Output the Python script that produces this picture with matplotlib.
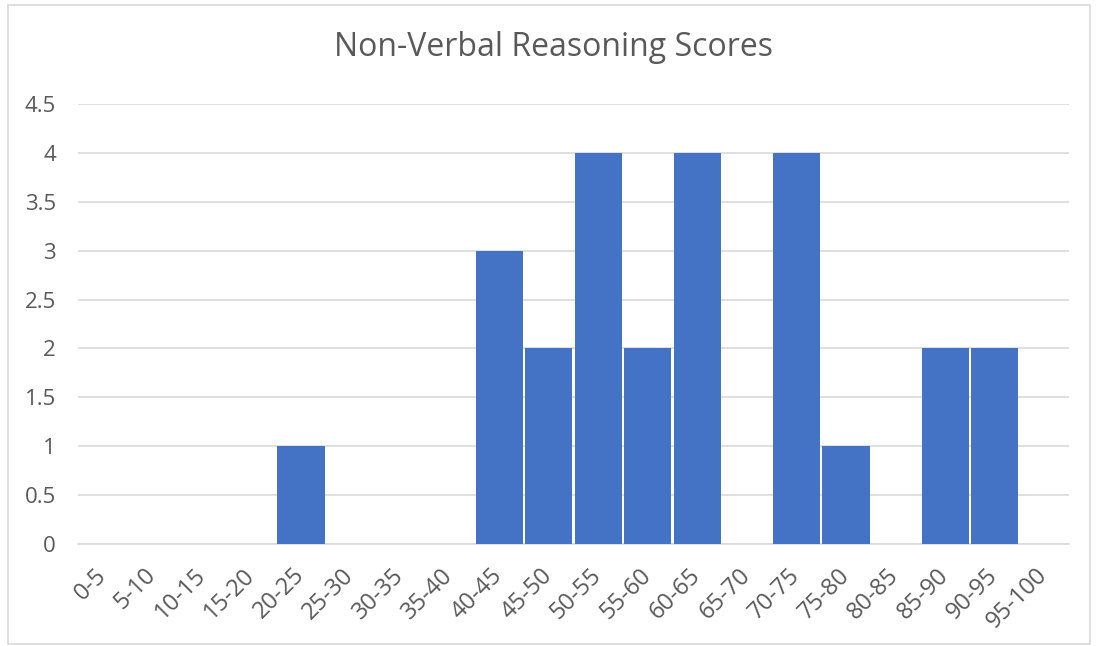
import matplotlib.pyplot as plt
from matplotlib.patches import Rectangle

plt.rcParams['font.family'] = ['Open Sans', 'DejaVu Sans']

title = "Non-Verbal Reasoning Scores"
bins = ["0-5", "5-10", "10-15", "15-20", "20-25", "25-30", "30-35", "35-40",
        "40-45", "45-50", "50-55", "55-60", "60-65", "65-70", "70-75", "75-80",
        "80-85", "85-90", "90-95", "95-100"]
counts = [0, 0, 0, 0, 1, 0, 0, 0, 3, 2, 4, 2, 4, 0, 4, 1, 0, 2, 2, 0]
yticks = [0, 0.5, 1, 1.5, 2, 2.5, 3, 3.5, 4, 4.5]

text_col = '#595959'
grid_col = '#D9D9D9'
bar_col = '#4472C4'

fig = plt.figure(figsize=(10.97, 6.46), dpi=100)
ax = fig.add_axes([78 / 1097, 1 - 544 / 646, (1069 - 78) / 1097, (544 - 104) / 646])

x = list(range(len(bins)))
ax.bar(x, counts, width=0.95, color=bar_col, zorder=3)

ax.set_xlim(-0.5, len(bins) - 0.5)
ax.set_ylim(0, 4.5)
ax.set_yticks(yticks)
ax.set_yticklabels([f"{v:g}" for v in yticks], fontsize=16, color=text_col)
ax.set_xticks(x)
ax.set_xticklabels(bins, rotation=45, ha='right', va='center', rotation_mode='anchor',
                   fontsize=17, color=text_col)
ax.tick_params(axis='both', length=0)
ax.tick_params(axis='y', pad=16)
ax.tick_params(axis='x', pad=20)

ax.yaxis.grid(True, color=grid_col, linewidth=1.2, zorder=0)
for s in ['top', 'right', 'left']:
    ax.spines[s].set_visible(False)
ax.spines['bottom'].set_color(grid_col)
ax.spines['bottom'].set_linewidth(1.2)

fig.text(553 / 1097, 1 - 48 / 646, title, ha='center', va='center',
         fontsize=23, color=text_col)

# chart frame
fig.patches.append(Rectangle((8 / 1097, 2 / 646), (1090 - 8) / 1097, (641 - 2) / 646,
                             transform=fig.transFigure, fill=False,
                             edgecolor='#D9D9D9', linewidth=1.2))

fig.savefig('out.png', dpi=100)
